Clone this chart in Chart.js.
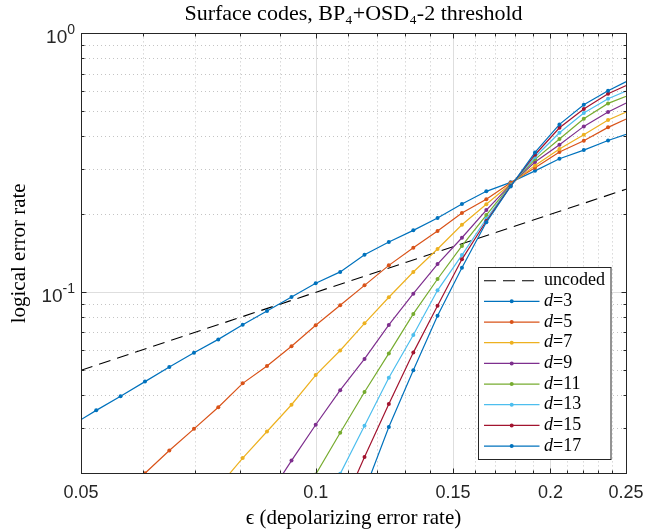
<!DOCTYPE html>
<html><head><meta charset="utf-8">
<script src="https://cdn.jsdelivr.net/npm/chart.js@4.4.1/dist/chart.umd.min.js"></script>
<style>html,body{margin:0;padding:0;background:#fff;}canvas{display:block;}</style>
</head><body>
<canvas id="c" width="654" height="529"></canvas>
<script>
// ---- data ----
const epsilon = [0.0487, 0.0523, 0.0562, 0.0604, 0.0649, 0.0698, 0.0750, 0.0806, 0.0866, 0.0931,
                 0.1000, 0.1075, 0.1155, 0.1241, 0.1334, 0.1433, 0.1540, 0.1655, 0.1778, 0.1911,
                 0.2054, 0.2207, 0.2371, 0.2548];
const uncodedX = [0.05, 0.25];
const uncodedY = [0.05, 0.25];
const d3  = [0.0307, 0.0350, 0.0397, 0.0452, 0.0515, 0.0584, 0.0658, 0.0750, 0.0847, 0.0959,
             0.1084, 0.1199, 0.1397, 0.1564, 0.1735, 0.1936, 0.2193, 0.2455, 0.2659, 0.2945,
             0.3281, 0.3543, 0.3856, 0.4158];
const d5  = [null, null, 0.0164, 0.0200, 0.0245, 0.0297, 0.0360, 0.0445, 0.0519, 0.0619,
             0.0746, 0.0891, 0.1064, 0.1271, 0.1486, 0.1724, 0.2024, 0.2287, 0.2650, 0.3027,
             0.3481, 0.3849, 0.4336, 0.4789];
const d7  = [null, null, null, null, null, null, 0.0177, 0.0229, 0.0290, 0.0368,
             0.0479, 0.0596, 0.0759, 0.0957, 0.1198, 0.1470, 0.1824, 0.2187, 0.2619, 0.3092,
             0.3575, 0.4060, 0.4627, 0.5092];
const d9  = [null, null, null, null, null, null, null, null, 0.0160, 0.0224,
             0.0308, 0.0419, 0.0553, 0.0748, 0.0988, 0.1286, 0.1625, 0.2078, 0.2607, 0.3185,
             0.3715, 0.4374, 0.4968, 0.5533];
const d11 = [null, null, null, null, null, null, null, null, null, null,
             0.0198, 0.0287, 0.0412, 0.0581, 0.0825, 0.1126, 0.1510, 0.1988, 0.2596, 0.3263,
             0.3907, 0.4681, 0.5367, 0.5840];
const d13 = [null, null, null, null, null, null, null, null, null, null,
             0.0130, 0.0199, 0.0305, 0.0468, 0.0684, 0.1018, 0.1393, 0.1924, 0.2585, 0.3331,
             0.4132, 0.4924, 0.5591, 0.6133];
const d15 = [null, null, null, null, null, null, null, null, null, null,
             null, 0.0142, 0.0231, 0.0370, 0.0585, 0.0888, 0.1341, 0.1885, 0.2573, 0.3399,
             0.4320, 0.5101, 0.5845, 0.6446];
const d17 = [null, null, null, null, null, null, null, null, null, null,
             null, null, 0.0171, 0.0302, 0.0500, 0.0812, 0.1245, 0.1864, 0.2562, 0.3471,
             0.4452, 0.5301, 0.6003, 0.6696];
const seriesLabels = ['d=3', 'd=5', 'd=7', 'd=9', 'd=11', 'd=13', 'd=15', 'd=17'];
const uncodedLabel = 'uncoded';
const xTickValues = [0.05, 0.1, 0.15, 0.2, 0.25];
const xTickLabels = ['0.05', '0.1', '0.15', '0.2', '0.25'];
const xMinorValues = [0.06, 0.07, 0.08, 0.09, 0.11, 0.12, 0.13, 0.14, 0.16, 0.17, 0.18, 0.19,
                      0.21, 0.22, 0.23, 0.24];
const yTickValues = [1, 0.1];
const yTickExponents = ['0', '-1'];
const yMinorValues = [0.02, 0.03, 0.04, 0.05, 0.06, 0.07, 0.08, 0.09,
                      0.2, 0.3, 0.4, 0.5, 0.6, 0.7, 0.8, 0.9];
const titleText = 'Surface codes, BP\u2084+OSD\u2084-2 threshold';
const xTitleText = '\u03F5 (depolarizing error rate)';
const yTitleText = 'logical error rate';

// ---- styles ----
const colors = ['#0072BD', '#D95319', '#EDB120', '#7E2F8E', '#77AC30', '#4DBEEE', '#A2142F', '#0072BD'];
const AX = '#262626';
const SERIF = '"Liberation Serif", "DejaVu Serif", serif';
const SANS = '"Liberation Sans", Arial, sans-serif';

const seriesArrays = [d3, d5, d7, d9, d11, d13, d15, d17];
const toPoints = arr => epsilon.map((x, i) => ({x: x, y: arr[i]})).filter(p => p.y !== null);

const datasets = [{
  label: uncodedLabel,
  data: uncodedX.map((x, i) => ({x: x, y: uncodedY[i]})),
  borderColor: '#000', backgroundColor: '#000', borderWidth: 1.1,
  borderDash: [12, 7], pointRadius: 0, order: 9
}].concat(seriesArrays.map((arr, k) => ({
  label: seriesLabels[k],
  data: toPoints(arr),
  borderColor: colors[k], backgroundColor: colors[k], borderWidth: 1.2,
  pointRadius: 2, pointBorderWidth: 0, pointBackgroundColor: colors[k],
  pointHoverRadius: 0, order: 8 - k
})));

const crisp = v => Math.round(v) + 0.5;

const gridPlugin = {
  id: 'matlabGrid',
  beforeDatasetsDraw(chart) {
    const {ctx, chartArea: a, scales: {x, y}} = chart;
    ctx.save();
    ctx.lineWidth = 1;
    ctx.strokeStyle = '#c4c4c4';
    ctx.setLineDash([1, 3]);
    ctx.beginPath();
    xMinorValues.forEach(v => { const p = crisp(x.getPixelForValue(v)); ctx.moveTo(p, a.top); ctx.lineTo(p, a.bottom); });
    yMinorValues.forEach(v => { const p = crisp(y.getPixelForValue(v)); ctx.moveTo(a.left, p); ctx.lineTo(a.right, p); });
    ctx.stroke();
    ctx.setLineDash([]);
    ctx.strokeStyle = '#dedede';
    ctx.beginPath();
    xTickValues.forEach(v => { const p = crisp(x.getPixelForValue(v)); ctx.moveTo(p, a.top); ctx.lineTo(p, a.bottom); });
    yTickValues.forEach(v => { const p = crisp(y.getPixelForValue(v)); ctx.moveTo(a.left, p); ctx.lineTo(a.right, p); });
    ctx.stroke();
    ctx.restore();
  },
  afterDatasetsDraw(chart) {
    const {ctx, chartArea: a, scales: {x, y}} = chart;
    const L = crisp(a.left), R = crisp(a.right), T = crisp(a.top), B = crisp(a.bottom);
    ctx.save();
    ctx.strokeStyle = AX;
    ctx.lineWidth = 1;
    ctx.setLineDash([]);
    ctx.strokeRect(L, T, R - L, B - T);
    ctx.beginPath();
    const tickX = (v, len) => { const p = crisp(x.getPixelForValue(v)); ctx.moveTo(p, B); ctx.lineTo(p, B - len); ctx.moveTo(p, T); ctx.lineTo(p, T + len); };
    const tickY = (v, len) => { const p = crisp(y.getPixelForValue(v)); ctx.moveTo(L, p); ctx.lineTo(L + len, p); ctx.moveTo(R, p); ctx.lineTo(R - len, p); };
    xTickValues.forEach(v => tickX(v, 5));
    xMinorValues.forEach(v => tickX(v, 3));
    yTickValues.forEach(v => tickY(v, 5));
    yMinorValues.forEach(v => tickY(v, 3));
    ctx.stroke();

    // y tick labels: 10^e
    ctx.fillStyle = AX;
    ctx.textBaseline = 'alphabetic';
    yTickValues.forEach((v, i) => {
      const py = y.getPixelForValue(v);
      const right = a.left - 6;
      ctx.font = '14px ' + SANS;
      const ew = ctx.measureText(yTickExponents[i]).width;
      ctx.textAlign = 'right';
      ctx.fillText(yTickExponents[i], right, py + 1);
      ctx.font = '19px ' + SANS;
      ctx.fillText('10', right - ew, py + 10);
    });

    // legend
    const lx = 478.5, ly = 267.5, lw = 132.5, lh = 192;
    ctx.fillStyle = '#fff';
    ctx.fillRect(lx, ly, lw, lh);
    ctx.strokeStyle = AX;
    ctx.lineWidth = 1;
    ctx.strokeRect(lx, ly, lw, lh);
    chart.data.datasets.forEach((ds, i) => {
      const ry = 280.7 + i * 20.67;
      ctx.save();
      ctx.strokeStyle = ds.borderColor;
      ctx.lineWidth = ds.borderWidth;
      ctx.setLineDash(ds.borderDash || []);
      ctx.beginPath(); ctx.moveTo(484, ry); ctx.lineTo(539.5, ry); ctx.stroke();
      ctx.restore();
      if (ds.pointRadius > 0) {
        ctx.fillStyle = ds.borderColor;
        ctx.beginPath(); ctx.arc(511.7, ry, ds.pointRadius, 0, Math.PI * 2); ctx.fill();
      }
      ctx.fillStyle = '#000';
      ctx.textAlign = 'left';
      ctx.textBaseline = 'middle';
      let tx = 544;
      const lab = ds.label;
      if (lab.startsWith('d=')) {
        ctx.font = 'italic 18px ' + SERIF;
        ctx.fillText('d', tx, ry);
        tx += ctx.measureText('d').width;
        ctx.font = '18px ' + SERIF;
        ctx.fillText(lab.slice(1), tx, ry);
      } else {
        ctx.font = '18px ' + SERIF;
        ctx.fillText(lab, tx, ry);
      }
    });
    ctx.restore();
  }
};

new Chart(document.getElementById('c'), {
  type: 'line',
  data: {datasets: datasets},
  options: {
    responsive: false, animation: false, devicePixelRatio: 1,
    layout: {padding: {left: 0, right: 28, top: 0, bottom: 0}},
    plugins: {
      legend: {display: false},
      tooltip: {enabled: false},
      title: {display: true, text: titleText, fullSize: false, color: '#000',
        font: {family: SERIF, size: 22, weight: 'normal', lineHeight: 1.2},
        padding: {top: 1, bottom: 6}}
    },
    scales: {
      x: {
        type: 'logarithmic', min: 0.05, max: 0.25,
        afterBuildTicks: s => { s.ticks = xTickValues.map(v => ({value: v})); },
        afterFit: s => { s.height = 55.7; },
        grid: {display: false, drawTicks: false}, border: {display: false},
        ticks: {autoSkip: false, maxRotation: 0, minRotation: 0, padding: 9, color: AX,
          font: {family: SANS, size: 18},
          callback: (v, i) => xTickLabels[i]},
        title: {display: true, text: xTitleText, color: '#000',
          font: {family: SERIF, size: 21, lineHeight: 1}, padding: 0}
      },
      y: {
        type: 'logarithmic', min: 0.02, max: 1,
        afterFit: s => { s.width = 81; },
        grid: {display: false, drawTicks: false}, border: {display: false},
        ticks: {display: false},
        title: {display: true, text: yTitleText, color: '#000',
          font: {family: SERIF, size: 21, lineHeight: 1.2}, padding: {top: 6.4, bottom: 0}}
      }
    }
  },
  plugins: [gridPlugin]
});
</script>
</body></html>
